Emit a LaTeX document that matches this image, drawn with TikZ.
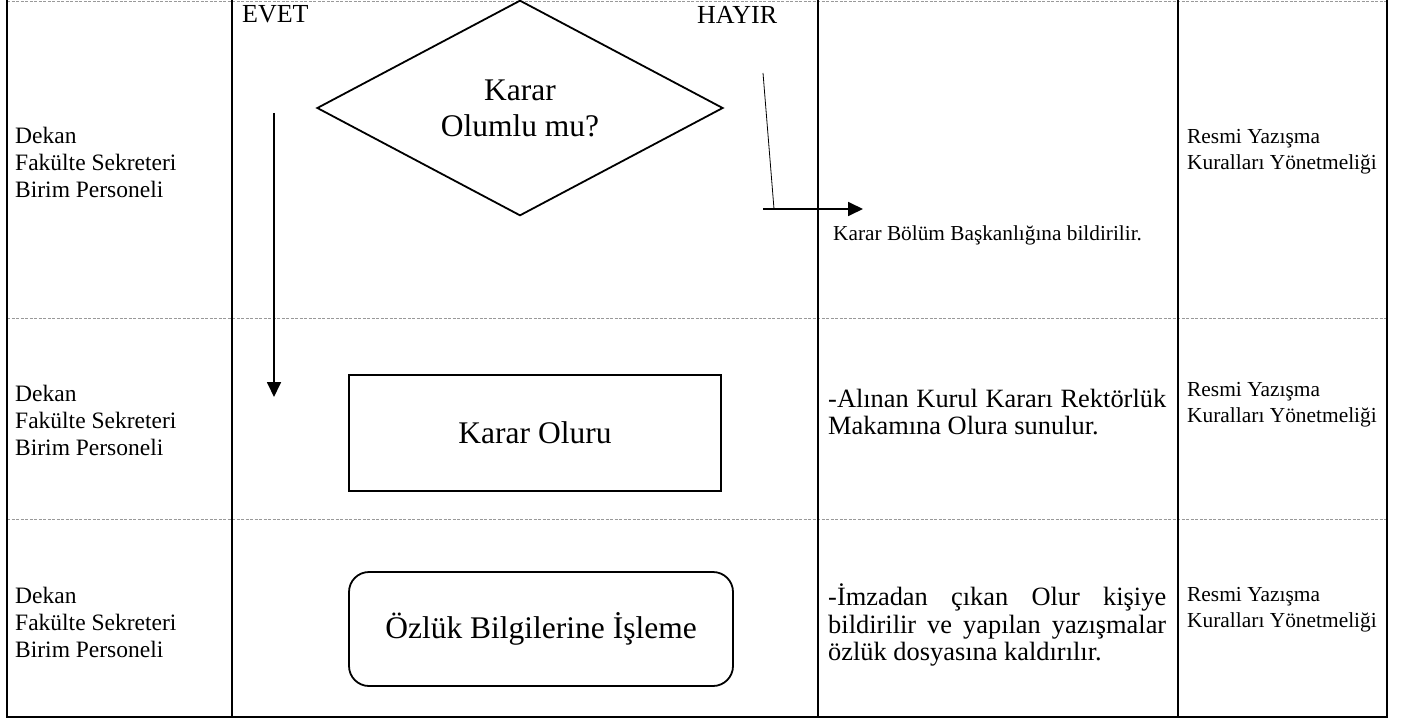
\documentclass[tikz,border=0pt]{standalone}
\usepackage{fontspec}
\setmainfont{Liberation Serif}
\usetikzlibrary{shapes.geometric,arrows.meta}
\begin{document}
\begin{tikzpicture}[x=1pt,y=-1pt,
  frame/.style={line width=1.8pt,black},
  sep/.style={line width=0.8pt,gray!80,dash pattern=on 3pt off 1.5pt},
  lefttxt/.style={anchor=west,inner sep=0pt,align=left,font=\fontsize{23.5}{27}\selectfont},
  reftxt/.style={anchor=west,inner sep=0pt,align=left,font=\fontsize{21.4}{26}\selectfont},
  desc/.style={anchor=west,inner sep=0pt,text width=338pt,align=justify,font=\fontsize{26.4}{27.5}\selectfont},
  lbl/.style={anchor=west,inner sep=0pt,font=\fontsize{26}{30}\selectfont},
  box/.style={draw,line width=1.8pt,inner sep=0pt,align=center,font=\fontsize{31.5}{36}\selectfont},
  arr/.style={line width=1.8pt,-{Triangle[width=14pt,length=15pt]}},
  thin/.style={line width=0.8pt}
]
\useasboundingbox (0,0) rectangle (1404,722);
% separators
\draw[sep] (7,1) -- (1387,1);
\draw[sep] (7,318) -- (1387,318);
\draw[sep] (7,519) -- (1387,519);
% frame and columns
\draw[frame] (7,0) -- (7,717) -- (1387,717) -- (1387,0);
\draw[frame] (232,0) -- (232,717);
\draw[frame] (818,0) -- (818,717);
\draw[frame] (1178,0) -- (1178,717);

% left column
\node[lefttxt] (l1) at (15,162) {Dekan\\Fakülte Sekreteri\\Birim Personeli};
\node[lefttxt] (l2) at (15,420) {Dekan\\Fakülte Sekreteri\\Birim Personeli};
\node[lefttxt] (l3) at (15,622) {Dekan\\Fakülte Sekreteri\\Birim Personeli};

% right column
\node[reftxt] (r1) at (1187,152) {Resmi Yazışma\\Kuralları Yönetmeliği};
\node[reftxt] (r2) at (1187,405) {Resmi Yazışma\\Kuralları Yönetmeliği};
\node[reftxt] (r3) at (1187,610) {Resmi Yazışma\\Kuralları Yönetmeliği};

% labels
\node[lbl] (evet) at (242,14) {EVET};
\node[lbl] (hayir) at (697,15) {HAYIR};

% shapes
\node[box,shape=diamond,minimum width=406pt,minimum height=198pt] (dec) at (520,108) {Karar\\Olumlu mu?};
\node[box,minimum width=372pt,minimum height=116pt] (olur) at (535,433) {Karar Oluru};
\node[box,rounded corners=20pt,minimum width=384pt,minimum height=114pt] (ozluk) at (541,629) {Özlük Bilgilerine İşleme};

% arrows
\coordinate (a1) at (274,113);
\coordinate (a2) at (274,397);
\draw[arr] (a1) -- (a2);
\coordinate (h1) at (763,73);
\coordinate (h2) at (774,209);
\draw[thin] (h1) -- (h2);
\coordinate (h3) at (763,209);
\coordinate (h4) at (863,209);
\draw[arr] (h3) -- (h4);

% third column
\node[anchor=west,inner sep=0pt,font=\fontsize{21.3}{26}\selectfont] (kb) at (833,235) {Karar Bölüm Başkanlığına bildirilir.};
\node[desc] (d2) at (828,412) {-Alınan Kurul Kararı Rektörlük Makamına Olura sunulur.};
\node[desc] (d3) at (828,625) {-İmzadan çıkan Olur kişiye bildirilir ve yapılan yazışmalar özlük dosyasına kaldırılır.};
\end{tikzpicture}
\end{document}
